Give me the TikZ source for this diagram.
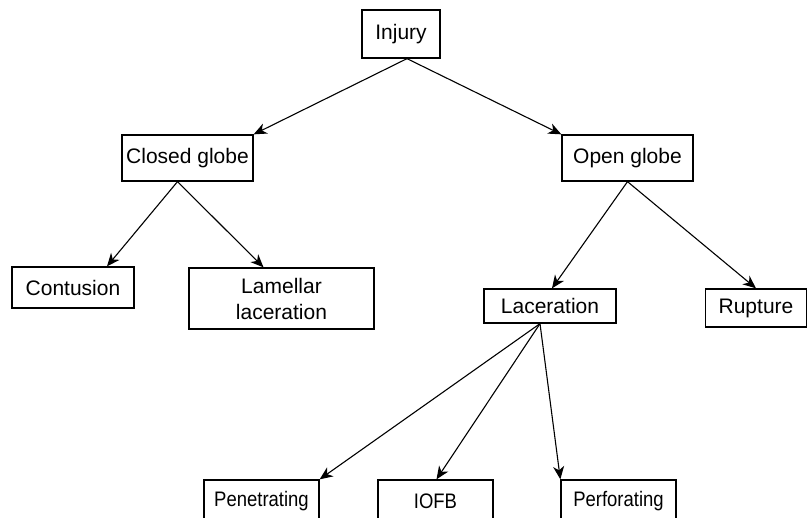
\documentclass[tikz,border=0pt]{standalone}
\usepackage{fontspec}
\setmainfont{Liberation Sans}
\newfontfamily\narrowsans[FakeStretch=0.88]{Liberation Sans}
\usetikzlibrary{positioning, arrows.meta}

\begin{document}
\begin{tikzpicture}[
    x=0.5pt, y=-0.5pt,
    box/.style={rectangle, draw, line width=0.65pt, inner sep=0pt, align=center},
    narrow/.style={font=\narrowsans\fontsize{10.5}{13}\selectfont},
    link/.style={-{Stealth[length=6.5pt, width=5.5pt, inset=2pt]}, line width=0.55pt},
    every node/.style={font=\fontsize{10.5}{13}\selectfont}
]
\useasboundingbox (0,0) rectangle (810,518);

% Nodes
\node[box, minimum width=39pt, minimum height=24pt] (injury) at (401,34) {Injury};

\node[box, minimum width=65.5pt, minimum height=23pt] (closed) at (187.5,158) {Closed globe};
\node[box, minimum width=65.5pt, minimum height=23pt] (open) at (627.5,158) {Open globe};

\node[box, minimum width=61pt, minimum height=20.5pt] (contusion) at (73,287.5) {Contusion};
\node[box, minimum width=92.5pt, minimum height=30.5pt] (lamellar) at (281.5,298.5) {Lamellar\\laceration};

\node[box, minimum width=66pt, minimum height=17pt] (laceration) at (550,306) {Laceration};
\node[box, minimum width=50.5pt, minimum height=19pt] (rupture) at (756,308) {Rupture};

\node[box, narrow, minimum width=57.5pt, minimum height=21pt] (penetrating) at (261.5,501) {Penetrating};
\node[box, narrow, minimum width=57.5pt, minimum height=21pt] (iofb) at (435.5,501) {IOFB};
\node[box, narrow, minimum width=57.5pt, minimum height=21pt] (perforating) at (618.5,501) {Perforating};

% Edges
\draw[link] ([xshift=3pt]injury.south) -- (closed.north east);
\draw[link] ([xshift=3pt]injury.south) -- (open.north west);

\draw[link] ([xshift=-5pt]closed.south) -- ([xshift=17pt]contusion.north);
\draw[link] ([xshift=-5pt]closed.south) -- ([xshift=-9pt]lamellar.north);

\draw[link] (open.south) -- ([xshift=1pt]laceration.north);
\draw[link] (open.south) -- (rupture.north);

\draw[link] ([xshift=-5pt]laceration.south) -- (penetrating.north east);
\draw[link] ([xshift=-5pt]laceration.south) -- ([xshift=0.5pt]iofb.north);
\draw[link] ([xshift=-5pt]laceration.south) -- (perforating.north west);

\end{tikzpicture}
\end{document}
